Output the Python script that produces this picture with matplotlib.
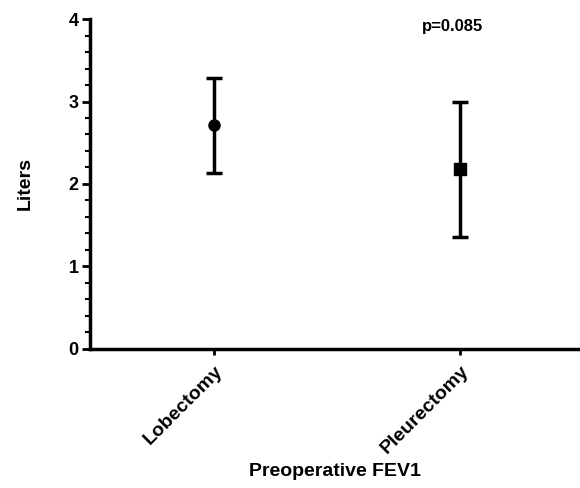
import matplotlib
matplotlib.use('Agg')
import matplotlib.pyplot as plt
from matplotlib.ticker import MultipleLocator

plt.rcParams['font.family'] = ['Liberation Sans', 'DejaVu Sans']
plt.rcParams['font.weight'] = 'bold'

# Data
groups = ['Lobectomy', 'Pleurectomy']
means = [2.71, 2.18]
upper = [3.28, 2.99]
lower = [2.13, 1.36]
markers = ['o', 's']
p_text = 'p=0.085'

fig = plt.figure(figsize=(5.8, 4.88), dpi=100)
ax = fig.add_axes([0.155, 0.285, 0.845, 0.676])

for i, (m, hi, lo, mk) in enumerate(zip(means, upper, lower, markers)):
    ax.errorbar(i, m, yerr=[[m - lo], [hi - m]], fmt=mk, color='black',
                ms=8, elinewidth=2.5, capsize=6, capthick=2.5)

ax.set_xlim(-0.506, 1.486)
ax.set_ylim(0, 4)
ax.set_xticks(range(len(groups)))
ax.set_xticklabels(groups, rotation=45, ha='right', rotation_mode='anchor', fontsize=14)
ax.yaxis.set_major_locator(MultipleLocator(1))
ax.yaxis.set_minor_locator(MultipleLocator(0.2))
ax.tick_params(axis='y', labelsize=13, width=2, length=6, pad=2)
ax.tick_params(axis='y', which='minor', width=1.5, length=3.5)
ax.tick_params(axis='x', width=2, length=4, pad=6)

for s in ['top', 'right']:
    ax.spines[s].set_visible(False)
for s in ['left', 'bottom']:
    ax.spines[s].set_linewidth(2.5)

ax.set_ylabel('Liters', fontsize=14, fontweight='bold', labelpad=25)
ax.set_xlabel('Preoperative FEV1', fontsize=14, fontweight='bold', labelpad=4)
ax.text(0.74, 0.976, p_text, transform=ax.transAxes, fontsize=12, fontweight='bold',
        ha='center', va='center')

fig.savefig('out.png', dpi=100)
